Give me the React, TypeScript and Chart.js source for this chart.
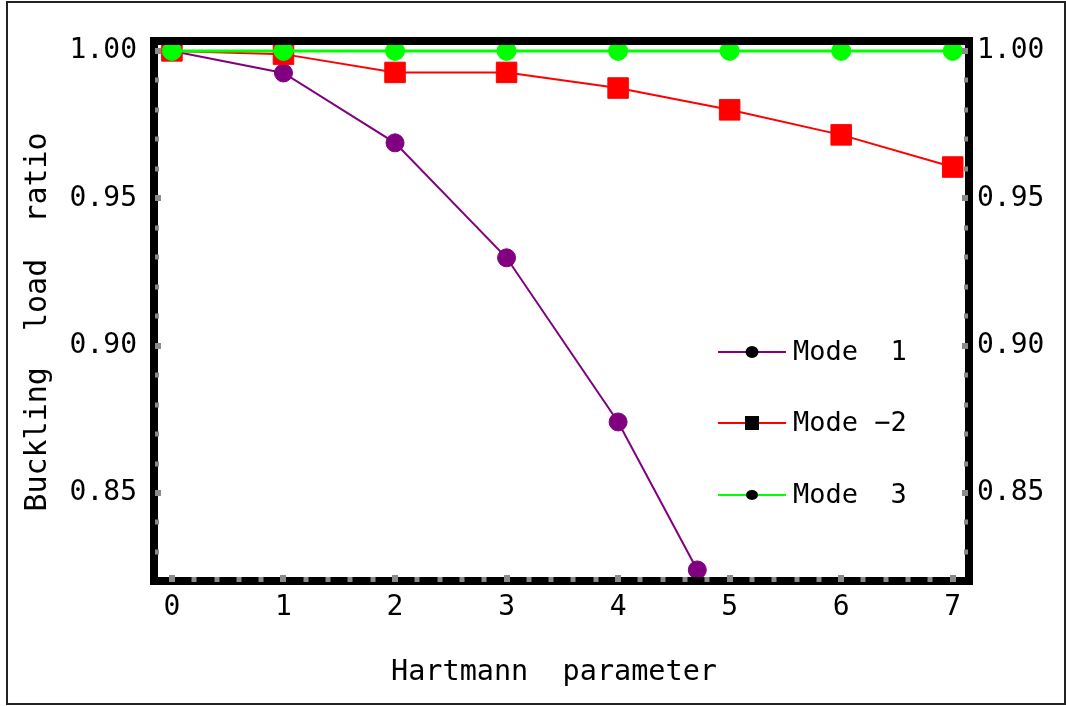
import React, { useEffect, useRef } from "react";
import { Chart, registerables } from "chart.js";

Chart.register(...registerables);

// ---- data ----
const hartmannMode1 = [0, 1, 2, 3, 4, 4.71];
const ratioMode1 = [1.0, 0.9925, 0.9688, 0.9298, 0.8741, 0.8239];
const hartmannMode2 = [0, 1, 2, 3, 4, 5, 6, 7];
const ratioMode2 = [1.0, 0.9989, 0.9927, 0.9927, 0.9874, 0.98, 0.9715, 0.9606];
const hartmannMode3 = [0, 1, 2, 3, 4, 5, 6, 7];
const ratioMode3 = [1, 1, 1, 1, 1, 1, 1, 1];
const xTickValues = [0, 1, 2, 3, 4, 5, 6, 7];
const yTickValues = [0.85, 0.9, 0.95, 1.0];
const seriesLabels = ["Mode  1", "Mode \u22122", "Mode  3"];
const seriesColors = ["#800080", "#ff0000", "#00ff00"];
const xTitle = "Hartmann  parameter";
const yTitle = "Buckling  load  ratio";

const FONT = "'DejaVu Sans Mono', monospace";
const FS = 28;

const toPoints = (xs: number[], ys: number[]) => xs.map((x, i) => ({ x, y: ys[i] }));

const framePlugin = {
  id: "frame",
  afterDatasetsDraw(chart: any) {
    const { ctx, chartArea: a, scales } = chart;
    const xs = scales.x;
    const ys = scales.y;
    ctx.save();
    // thick black frame
    ctx.strokeStyle = "#000";
    ctx.lineWidth = 8;
    ctx.strokeRect(a.left - 4, a.top - 4, a.right - a.left + 8, a.bottom - a.top + 8);
    // gray tick marks
    ctx.fillStyle = "#8a8a8a";
    for (let i = 0; i <= 35; i++) {
      const v = i * 0.2;
      const px = Math.round(xs.getPixelForValue(v));
      const major = i % 5 === 0;
      if (major) ctx.fillRect(px - 3, a.bottom - 2, 6, 7);
      else ctx.fillRect(px - 2.5, a.bottom, 5, 5);
    }
    for (let i = 83; i <= 100; i++) {
      const v = i / 100;
      const py = Math.round(ys.getPixelForValue(v));
      const major = i % 5 === 0;
      const h = major ? 6 : 5;
      ctx.fillRect(a.left - 3, py - h / 2, major ? 6 : 4, h);
      ctx.fillRect(a.right - (major ? 3 : 1), py - h / 2, major ? 6 : 4, h);
    }
    ctx.restore();
  },
  afterDraw(chart: any) {
    const { ctx } = chart;
    ctx.save();
    // outer border
    ctx.strokeStyle = "#222";
    ctx.lineWidth = 2;
    ctx.strokeRect(7, 2, 1058, 702);
    // axis titles
    ctx.fillStyle = "#000";
    ctx.textAlign = "center";
    ctx.textBaseline = "alphabetic";
    ctx.font = `28.5px ${FONT}`;
    ctx.fillText(xTitle, 554, 680);
    ctx.save();
    ctx.translate(46, 322);
    ctx.rotate(-Math.PI / 2);
    ctx.font = `30px ${FONT}`;
    ctx.fillText(yTitle, 0, 0);
    ctx.restore();
    // legend
    const rowsY = [352, 423, 495];
    const lx0 = 718, lx1 = 786, mx = 752, tx = 793;
    ctx.font = `27px ${FONT}`;
    ctx.textBaseline = "middle";
    ctx.textAlign = "left";
    seriesLabels.forEach((lab, i) => {
      const y = rowsY[i];
      ctx.strokeStyle = seriesColors[i];
      ctx.lineWidth = 2;
      ctx.beginPath();
      ctx.moveTo(lx0, y);
      ctx.lineTo(lx1, y);
      ctx.stroke();
      ctx.fillStyle = "#000";
      if (i === 1) {
        ctx.fillRect(mx - 7, y - 7, 14, 14);
      } else {
        ctx.beginPath();
        ctx.ellipse(mx, y, i === 0 ? 6.5 : 6, i === 0 ? 6 : 5, 0, 0, Math.PI * 2);
        ctx.fill();
      }
      ctx.fillText(lab, tx, y + 1);
    });
    ctx.restore();
  },
};

export default function App() {
  const ref = useRef<HTMLCanvasElement>(null);
  useEffect(() => {
    document.body.style.margin = "0";
    const canvas = ref.current!;
    const tickFont = { family: FONT, size: FS };
    const chart = new Chart(canvas, {
      type: "line",
      data: {
        datasets: [
          {
            label: seriesLabels[0],
            data: toPoints(hartmannMode1, ratioMode1),
            borderColor: seriesColors[0],
            backgroundColor: seriesColors[0],
            borderWidth: 2,
            pointStyle: "circle",
            pointRadius: 9,
            pointBorderWidth: 1,
            order: 3,
            clip: 0,
          },
          {
            label: seriesLabels[1],
            data: toPoints(hartmannMode2, ratioMode2),
            borderColor: seriesColors[1],
            backgroundColor: seriesColors[1],
            borderWidth: 2,
            pointStyle: "rect",
            pointRadius: 14.5,
            pointBorderWidth: 1,
            order: 2,
            clip: 0,
          },
          {
            label: seriesLabels[2],
            data: toPoints(hartmannMode3, ratioMode3),
            borderColor: seriesColors[2],
            backgroundColor: seriesColors[2],
            borderWidth: 3,
            pointStyle: "circle",
            pointRadius: 9.5,
            pointBorderWidth: 1,
            order: 1,
            clip: 0,
          },
        ],
      },
      options: {
        responsive: false,
        animation: false,
        events: [],
        layout: { padding: { top: 45, left: 0, right: 0, bottom: 0 } },
        plugins: { legend: { display: false }, tooltip: { enabled: false } },
        scales: {
          x: {
            type: "linear",
            min: -0.125,
            max: 7.11,
            grid: { display: false, drawTicks: false },
            border: { display: false },
            ticks: { font: tickFont, color: "#000", padding: 14, autoSkip: false, maxRotation: 0 },
            afterBuildTicks: (s: any) => {
              s.ticks = xTickValues.map((v) => ({ value: v }));
            },
            afterFit: (s: any) => {
              s.height = 129;
            },
          },
          y: {
            type: "linear",
            position: "left",
            min: 0.8215,
            max: 1.002,
            grid: { display: false, drawTicks: false },
            border: { display: false },
            ticks: {
              font: tickFont,
              color: "#000",
              padding: 21,
              callback: (v: any) => Number(v).toFixed(2),
            },
            afterBuildTicks: (s: any) => {
              s.ticks = yTickValues.map((v) => ({ value: v }));
            },
            afterFit: (s: any) => {
              s.width = 158;
            },
          },
          y2: {
            type: "linear",
            position: "right",
            min: 0.8215,
            max: 1.002,
            grid: { display: false, drawTicks: false },
            border: { display: false },
            ticks: {
              font: tickFont,
              color: "#000",
              padding: 12,
              callback: (v: any) => Number(v).toFixed(2),
            },
            afterBuildTicks: (s: any) => {
              s.ticks = yTickValues.map((v) => ({ value: v }));
            },
            afterFit: (s: any) => {
              s.width = 101;
            },
          },
        },
      },
      plugins: [framePlugin],
    } as any);
    return () => chart.destroy();
  }, []);
  return (
    <div style={{ width: 1066, height: 706, background: "#fff" }}>
      <canvas ref={ref} width={1066} height={706} style={{ display: "block" }} />
    </div>
  );
}
